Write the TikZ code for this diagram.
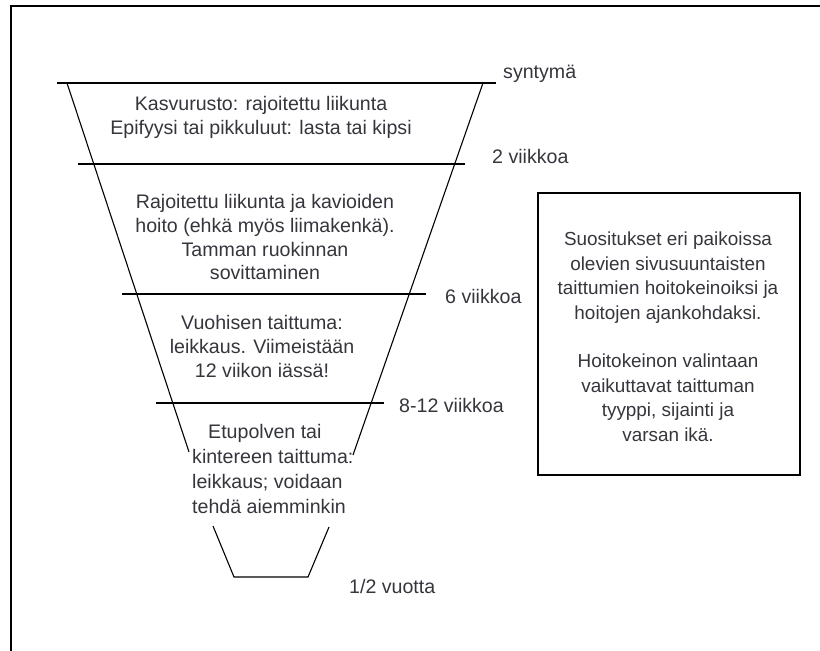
\documentclass[tikz,border=0pt]{standalone}
\usepackage{fontspec}
\setmainfont{Liberation Sans}
\definecolor{txt}{RGB}{55,52,60}
\begin{document}
\begin{tikzpicture}[x=1pt,y=-1pt,
  lbl/.style={text=txt,font=\fontsize{19.6}{23.8}\selectfont,inner sep=0pt},
  blk/.style={lbl,align=center,anchor=north,
    execute at begin node=\strut,execute at end node=\strut},
  ln/.style={draw=black,line width=1.3pt},
  side/.style={draw=black,line width=1.1pt}]
\useasboundingbox (0,0) rectangle (820,651);
% frame
\coordinate (fA) at (10.5,651);
\coordinate (fB) at (10.5,5.5);
\coordinate (fC) at (820,5.5);
\draw[line width=2pt] (fA) -- (fB) -- (fC);
% funnel horizontal lines
\coordinate (h0L) at (57,83);  \coordinate (h0R) at (496,83);
\coordinate (h1L) at (78,164); \coordinate (h1R) at (465,164);
\coordinate (h2L) at (122,294);\coordinate (h2R) at (426,294);
\coordinate (h3L) at (156,403);\coordinate (h3R) at (384,403);
\draw[ln] (h0L) -- (h0R);
\draw[ln] (h1L) -- (h1R);
\draw[ln] (h2L) -- (h2R);
\draw[ln] (h3L) -- (h3R);
% funnel sides
\coordinate (sLt) at (67,83);  \coordinate (sLb) at (189,452);
\coordinate (sRt) at (483,83); \coordinate (sRb) at (353,455);
\draw[side] (sLt) -- (sLb);
\draw[side] (sRt) -- (sRb);
% bottom cup
\coordinate (cLt) at (213,526); \coordinate (cLb) at (234,577);
\coordinate (cRb) at (308,577); \coordinate (cRt) at (329,527);
\draw[side] (cLt) -- (cLb) -- (cRb) -- (cRt);
% texts inside funnel
\node[blk] (b1) at (261,107-11) {Kasvurusto: rajoitettu liikunta\\Epifyysi tai pikkuluut: lasta tai kipsi};
\node[blk] (b2) at (265,205-11) {Rajoitettu liikunta ja kavioiden\\hoito (ehkä myös liimakenkä).\\Tamman ruokinnan\\sovittaminen};
\node[blk] (b3) at (262,326-11) {Vuohisen taittuma:\\leikkaus. Viimeistään\\12 viikon iässä!};
\node[lbl,align=left,anchor=north west,font=\fontsize{19.6}{25}\selectfont,
  execute at begin node=\strut,execute at end node=\strut] (b4) at (192,435-11)
  {\hspace*{16pt}Etupolven tai\\kintereen taittuma:\\leikkaus; voidaan\\tehdä aiemminkin};
% time labels
\node[lbl,anchor=base west] (l0) at (503,72+6) {syntymä};
\node[lbl,anchor=base west] (l1) at (492,157+6) {2 viikkoa};
\node[lbl,anchor=base west] (l2) at (445,297+6) {6 viikkoa};
\node[lbl,anchor=base west] (l3) at (399,406+6) {8-12 viikkoa};
\node[lbl,anchor=base west] (l4) at (349,587+6) {1/2 vuotta};
% side box
\node[draw=black,line width=1.3pt,minimum width=262pt,minimum height=282pt,inner sep=0pt] (box) at (669,334) {};
\node[blk,font=\fontsize{18.9}{24.4}\selectfont] (bt) at (668,243-11)
  {Suositukset eri paikoissa\\olevien sivusuuntaisten\\taittumien hoitokeinoiksi ja\\hoitojen ajankohdaksi.\\[24.4pt]Hoitokeinon valintaan\\vaikuttavat taittuman\\tyyppi, sijainti ja\\varsan ikä.};
\end{tikzpicture}
\end{document}
